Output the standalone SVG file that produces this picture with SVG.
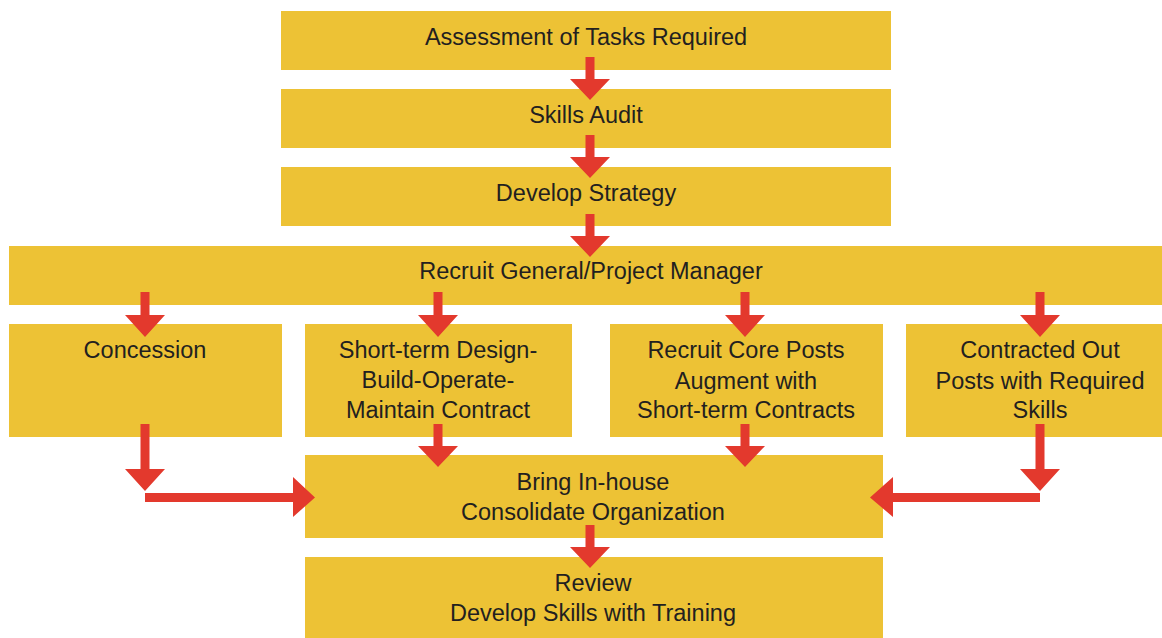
<svg xmlns="http://www.w3.org/2000/svg" width="1162" height="638" viewBox="0 0 1162 638">
<style>
.box{fill:#EDC235}
.t{font-family:"Liberation Sans",Arial,sans-serif;font-size:23.5px;fill:#231F20;text-anchor:middle}
.a{fill:#E3392D}
</style>
<rect width="1162" height="638" fill="#fff"/>
<g id="n1"><rect class="box" x="281" y="11" width="610" height="59"/><text class="t" x="586" y="45">Assessment of Tasks Required</text></g>
<g id="n2"><rect class="box" x="281" y="89" width="610" height="59"/><text class="t" x="586" y="123">Skills Audit</text></g>
<g id="n3"><rect class="box" x="281" y="167" width="610" height="59"/><text class="t" x="586" y="201">Develop Strategy</text></g>
<g id="n4"><rect class="box" x="9" y="246" width="1153" height="59"/><text class="t" x="591" y="279">Recruit General/Project Manager</text></g>
<g id="n5"><rect class="box" x="9" y="324" width="273" height="113"/><text class="t" x="145" y="358">Concession</text></g>
<g id="n6"><rect class="box" x="305" y="324" width="267" height="113"/><text class="t" x="438" y="358">Short-term Design-</text><text class="t" x="438" y="388">Build-Operate-</text><text class="t" x="438" y="418">Maintain Contract</text></g>
<g id="n7"><rect class="box" x="610" y="324" width="273" height="113"/><text class="t" x="746" y="358">Recruit Core Posts</text><text class="t" x="746" y="389">Augment with</text><text class="t" x="746" y="418">Short-term Contracts</text></g>
<g id="n8"><rect class="box" x="906" y="324" width="256" height="113"/><text class="t" x="1040" y="358">Contracted Out</text><text class="t" x="1040" y="389">Posts with Required</text><text class="t" x="1040" y="418">Skills</text></g>
<g id="n9"><rect class="box" x="305" y="455" width="578" height="83"/><text class="t" x="593" y="490">Bring In-house</text><text class="t" x="593" y="520">Consolidate Organization</text></g>
<g id="n10"><rect class="box" x="305" y="557" width="578" height="81"/><text class="t" x="593" y="591">Review</text><text class="t" x="593" y="621">Develop Skills with Training</text></g>
<g id="connectors">
<path class="a" d="M585.5,57H594.5V79H610L590,100L570,79H585.5Z"/>
<path class="a" d="M585.5,135H594.5V157H610L590,178L570,157H585.5Z"/>
<path class="a" d="M585.5,214H594.5V236H610L590,257L570,236H585.5Z"/>
<path class="a" d="M140.5,292H149.5V315H165L145,337L125,315H140.5Z"/>
<path class="a" d="M433.5,292H442.5V315H458L438,337L418,315H433.5Z"/>
<path class="a" d="M740.5,292H749.5V315H765L745,337L725,315H740.5Z"/>
<path class="a" d="M1035.5,292H1044.5V315H1060L1040,337L1020,315H1035.5Z"/>
<path class="a" d="M140.5,424H149.5V469H165L145,491L125,469H140.5Z"/>
<path class="a" d="M1035.5,424H1044.5V469H1060L1040,491L1020,469H1035.5Z"/>
<path class="a" d="M433.5,424H442.5V446H458L438,467L418,446H433.5Z"/>
<path class="a" d="M740.5,424H749.5V446H765L745,467L725,446H740.5Z"/>
<path class="a" d="M145,493H293V477L315,497.5L293,517V502H145Z"/>
<path class="a" d="M1040,493H893V477L870,497.5L893,517V502H1040Z"/>
<path class="a" d="M585.5,525H594.5V547H610L590,568L570,547H585.5Z"/>
</g>
</svg>
